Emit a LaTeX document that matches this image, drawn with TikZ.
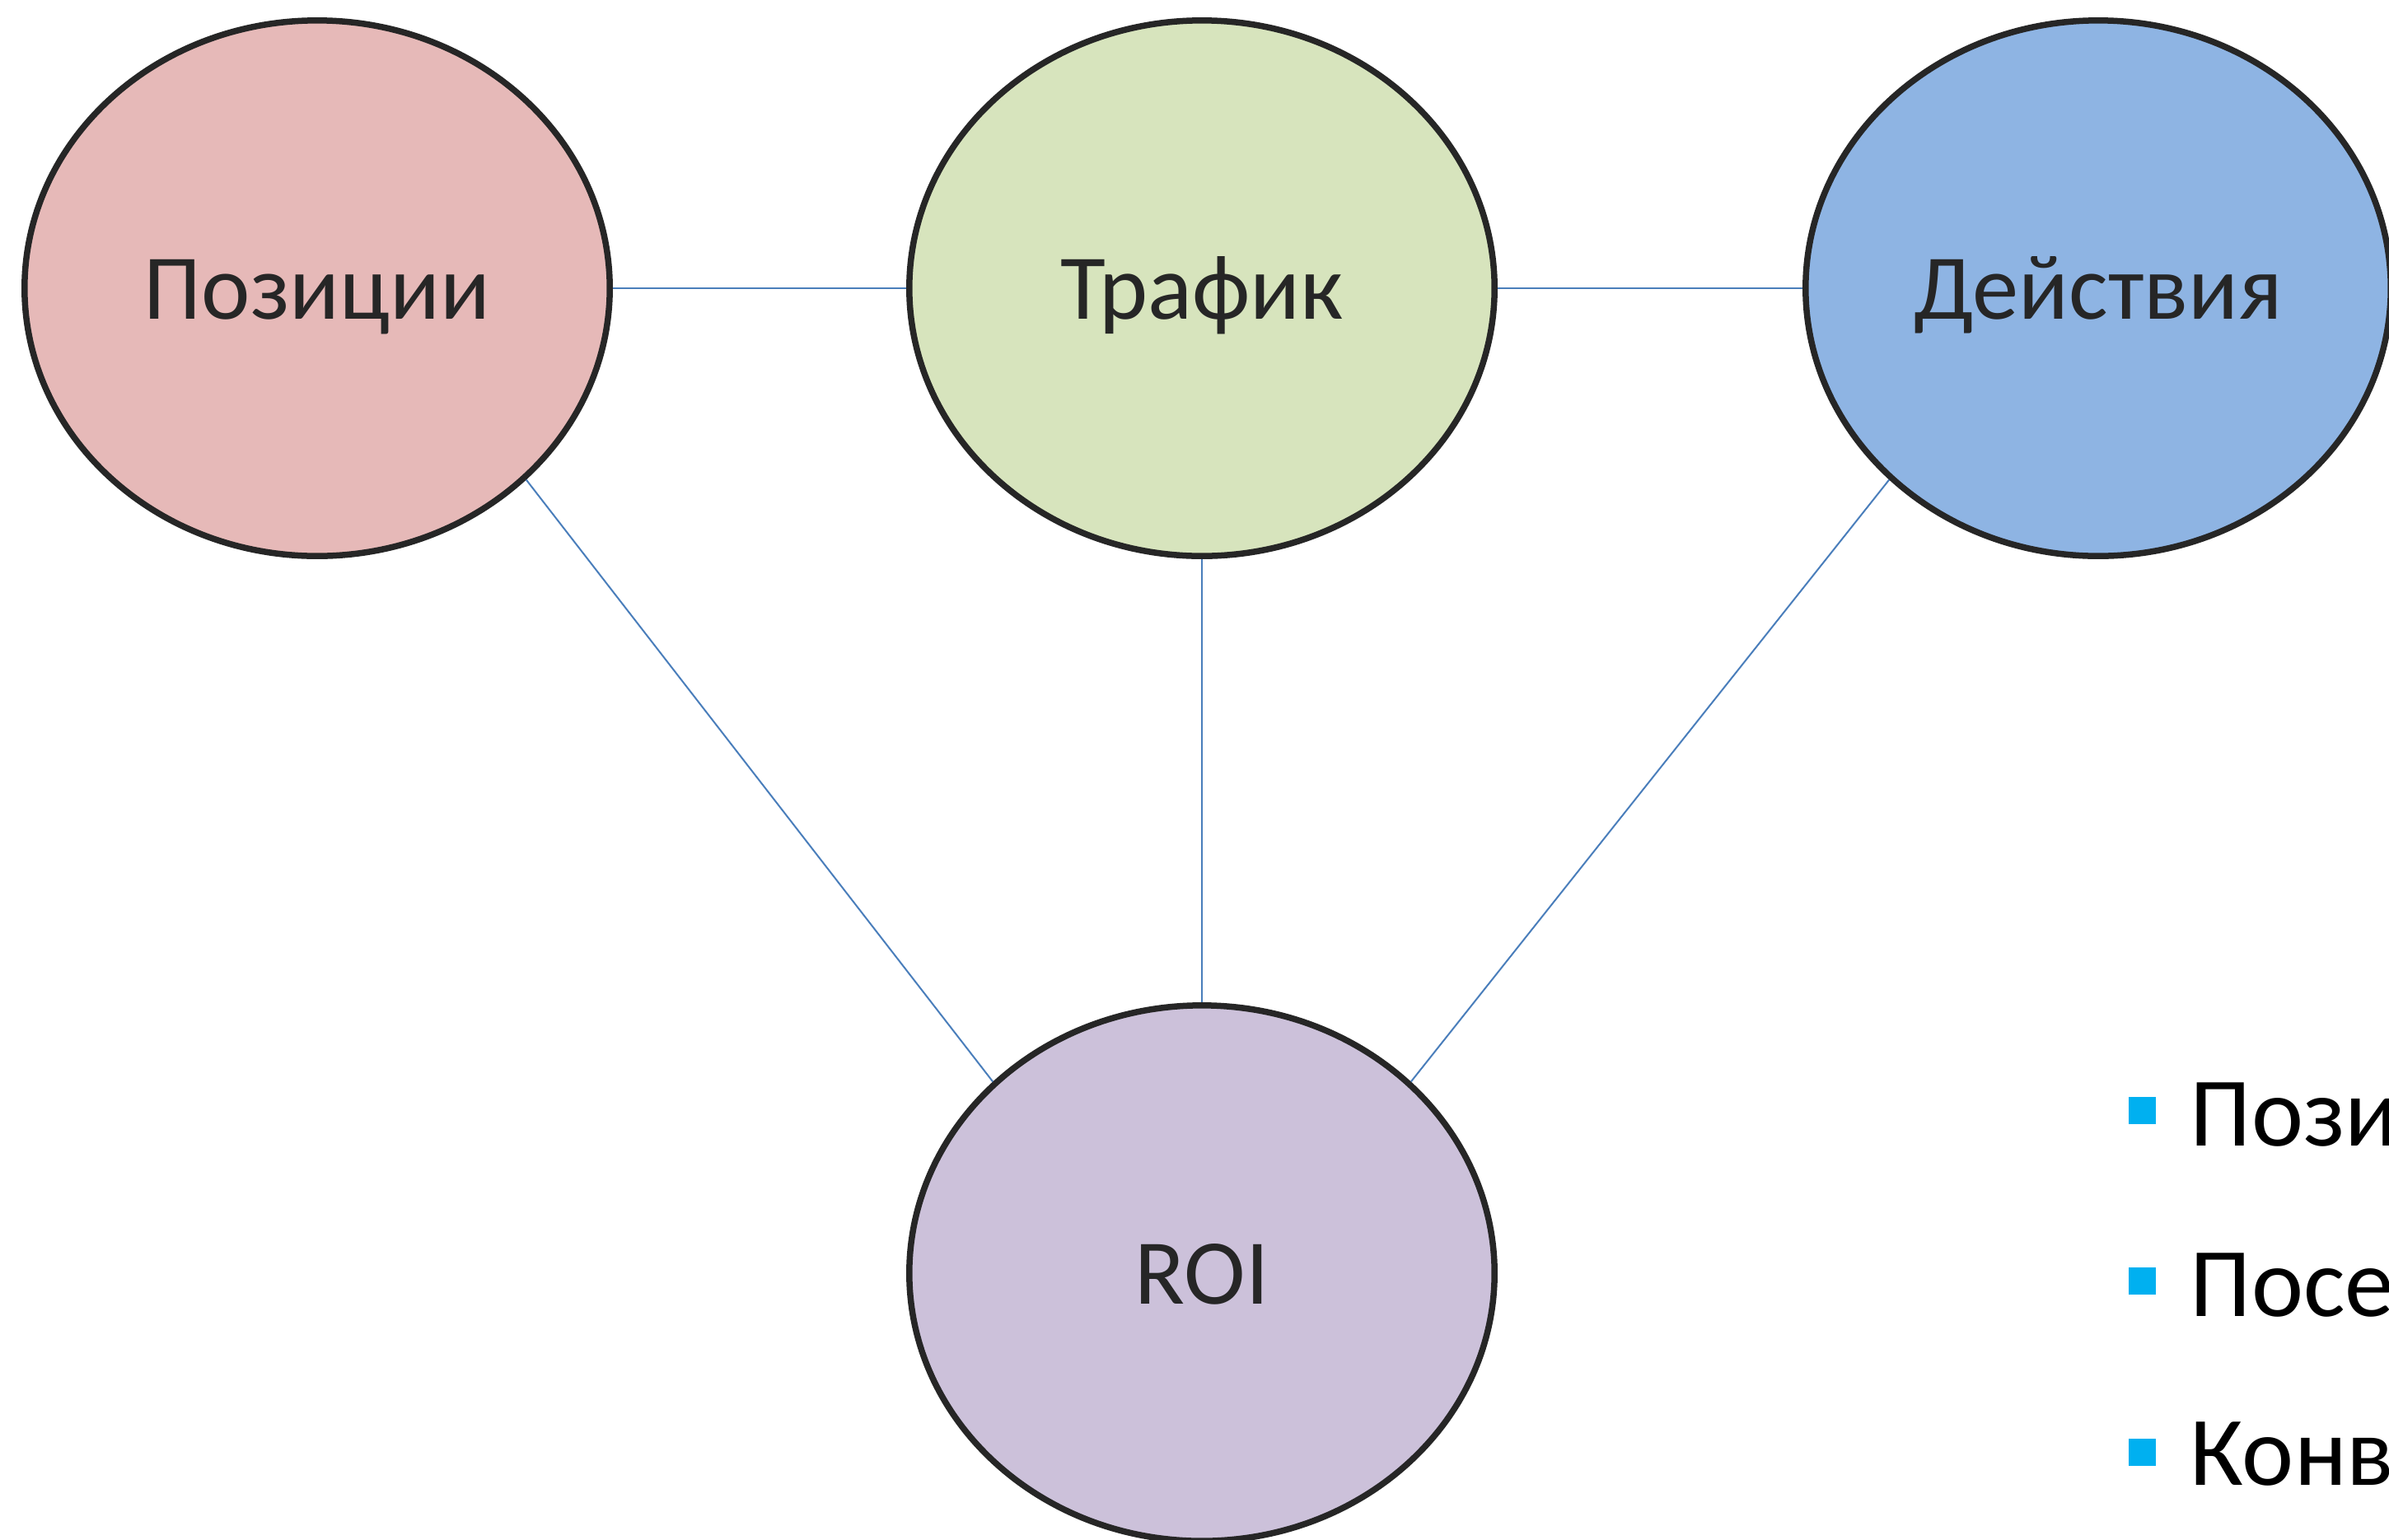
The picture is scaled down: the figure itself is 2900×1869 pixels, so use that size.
\documentclass[tikz,border=0pt]{standalone}
\usepackage{fontspec}
\setmainfont{Carlito}
\usetikzlibrary{shapes.geometric}
\definecolor{outl}{HTML}{262626}
\definecolor{conn}{HTML}{4A7EBB}
\definecolor{fpink}{HTML}{E6B9B8}
\definecolor{fgreen}{HTML}{D7E4BD}
\definecolor{fblue}{HTML}{8EB4E3}
\definecolor{fpurple}{HTML}{CCC1DA}
\definecolor{bul}{HTML}{00B0F0}
\begin{document}
\begin{tikzpicture}[x=0.01cm,y=-0.01cm,
  bubble/.style={ellipse, draw=outl, line width=0.075cm, minimum width=7.1cm, minimum height=6.5cm, inner sep=0pt, text=outl, text height=0.74cm, text depth=0cm, font=\fontsize{32}{38}\selectfont},
  link/.style={draw=conn, line width=0.02cm},
  bulletsq/.style={fill=bul, minimum size=0.33cm, inner sep=0pt, draw=none},
  item/.style={anchor=base west, inner sep=0pt, font=\fontsize{34}{40}\selectfont, text=black}]
\useasboundingbox (0,0) rectangle (2900,1869);
\clip (0,0) rectangle (2900,1869);
\node[bubble, fill=fpink] (L) at (385,350) {Позиции};
\node[bubble, fill=fgreen] (M) at (1459,350) {Трафик};
\node[bubble, fill=fblue] (R) at (2547,350) {Действия};
\node[bubble, fill=fpurple] (B) at (1459,1546) {ROI};
\draw[link] (L.east) -- (M.west);
\draw[link] (M.east) -- (R.west);
\draw[link] (M.south) -- (B.north);
\draw[link] (L.south east) -- (B.north west);
\draw[link] (R.south west) -- (B.north east);
\node[bulletsq] (b1) at (2600,1348) {};
\node[bulletsq] (b2) at (2600,1555) {};
\node[bulletsq] (b3) at (2600,1763) {};
\node[item] (t1) at (2658,1391) {Позиции};
\node[item] (t2) at (2658,1598) {Посещаемость};
\node[item] (t3) at (2658,1803) {Конверсия};
\end{tikzpicture}
\end{document}
